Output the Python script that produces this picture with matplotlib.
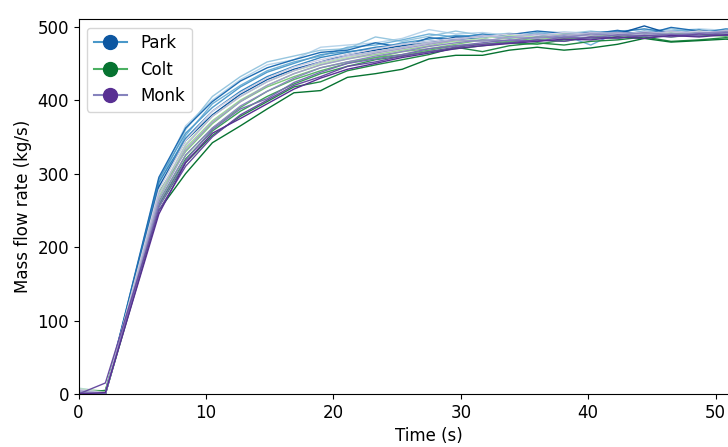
import numpy as np
import matplotlib
matplotlib.use("Agg")
import matplotlib.pyplot as plt
from matplotlib.lines import Line2D

# Sample times (s)
time = [0, 2.1, 6.3, 8.4, 10.5, 12.7, 14.8, 16.9, 19.0, 21.1, 23.3, 25.4, 27.5,
        29.6, 31.7, 33.8, 36.0, 38.1, 40.2, 42.3, 44.4, 46.5, 48.7, 50.8, 52.9]

# Mass flow rate runs (kg/s), light -> dark within each group
park_runs = [
    [8, 3, 290, 365, 400, 428, 448, 455, 472, 475, 478, 484, 496, 490, 492, 488, 490, 493, 491, 494, 496, 494, 497, 495, 494],
    [6, 2, 285, 360, 405, 432, 452, 460, 468, 470, 486, 480, 487, 494, 488, 491, 487, 490, 494, 490, 493, 497, 492, 496, 492],
    [5, 1, 280, 352, 395, 420, 440, 452, 460, 472, 475, 482, 490, 486, 489, 486, 492, 488, 475, 492, 490, 494, 496, 491, 493],
    [3, 0, 292, 355, 390, 418, 438, 450, 462, 466, 470, 478, 483, 488, 487, 484, 490, 486, 489, 488, 494, 490, 493, 494, 490],
    [2, 0, 288, 348, 385, 412, 432, 446, 458, 465, 472, 476, 480, 484, 490, 486, 485, 489, 492, 493, 497, 492, 491, 497, 495],
    [1, 0, 295, 362, 398, 426, 444, 455, 465, 468, 478, 472, 485, 482, 486, 489, 494, 491, 490, 495, 489, 499, 494, 492, 491],
    [0, 0, 282, 345, 380, 408, 428, 442, 452, 462, 468, 474, 478, 486, 484, 490, 488, 487, 492, 490, 501, 490, 495, 490, 496],
]
colt_runs = [
    [7, 4, 272, 340, 378, 405, 425, 440, 450, 458, 466, 472, 478, 480, 484, 488, 486, 490, 488, 491, 488, 493, 490, 492, 490],
    [5, 3, 268, 335, 372, 400, 420, 436, 448, 456, 462, 468, 474, 481, 480, 485, 483, 486, 490, 487, 492, 488, 494, 489, 491],
    [4, 2, 275, 330, 368, 398, 418, 432, 444, 452, 458, 466, 470, 476, 482, 478, 486, 484, 485, 490, 487, 491, 488, 493, 489],
    [3, 1, 262, 325, 362, 390, 412, 428, 440, 450, 458, 462, 468, 474, 476, 480, 482, 480, 486, 484, 490, 486, 489, 487, 490],
    [2, 0, 258, 320, 358, 385, 405, 422, 436, 446, 455, 460, 466, 470, 474, 478, 476, 482, 484, 486, 484, 490, 487, 491, 486],
    [1, 5, 255, 315, 352, 378, 398, 418, 425, 440, 448, 455, 462, 472, 466, 474, 478, 475, 480, 482, 486, 480, 482, 485, 482],
    [0, 0, 250, 300, 342, 365, 388, 410, 413, 431, 436, 442, 456, 461, 461, 468, 472, 468, 471, 476, 484, 479, 481, 483, 480],
]
monk_runs = [
    [6, 2, 278, 345, 385, 410, 430, 445, 455, 462, 470, 476, 480, 484, 486, 490, 488, 492, 490, 489, 493, 491, 494, 492, 493],
    [5, 1, 272, 338, 378, 405, 425, 440, 452, 460, 466, 472, 478, 482, 488, 485, 490, 487, 492, 491, 489, 494, 490, 495, 491],
    [4, 0, 265, 332, 370, 398, 420, 436, 448, 456, 464, 470, 476, 482, 480, 486, 484, 489, 487, 492, 490, 488, 492, 490, 494],
    [2, 0, 260, 325, 362, 392, 412, 430, 444, 452, 460, 466, 473, 478, 482, 481, 486, 485, 490, 488, 492, 489, 491, 493, 490],
    [1, 0, 255, 318, 360, 388, 402, 424, 438, 450, 456, 462, 470, 474, 478, 482, 480, 486, 484, 489, 487, 490, 488, 492, 489],
    [0, 15, 250, 310, 350, 380, 400, 420, 432, 446, 452, 460, 466, 472, 476, 478, 482, 480, 486, 484, 488, 486, 490, 488, 491],
    [0, 2, 245, 315, 355, 375, 395, 415, 430, 442, 450, 458, 464, 470, 474, 477, 480, 483, 482, 486, 484, 488, 486, 489, 488],
]

groups = ["Park", "Colt", "Monk"]
cmaps = [plt.cm.Blues, plt.cm.Greens, plt.cm.Purples]
all_runs = [park_runs, colt_runs, monk_runs]

plt.rcParams['font.size'] = 12

fig = plt.figure(figsize=(7.28, 4.47), dpi=100)
# axes runs past the right edge of the figure, like the cropped original
ax = fig.add_axes([0.108, 0.1186, 0.9625, 0.8382])

for runs, cmap in zip(all_runs, cmaps):
    shades = cmap(np.linspace(0.3, 0.85, len(runs)))
    for run, c in zip(runs, shades):
        ax.plot(time, run, color=c, linewidth=1.0)

handles = []
for name, cmap in zip(groups, cmaps):
    handles.append(Line2D([0], [0], color=cmap(0.6), linewidth=1.5, marker='o',
                          markersize=10, markerfacecolor=cmap(0.85),
                          markeredgecolor=cmap(0.85), label=name))
ax.legend(handles=handles, loc='upper left')

ax.set_xlim(0, 55)
ax.set_ylim(0, 510)
ax.set_xticks([0, 10, 20, 30, 40, 50])
ax.set_yticks([0, 100, 200, 300, 400, 500])
ax.set_xlabel('Time (s)')
ax.set_ylabel('Mass flow rate (kg/s)')

fig.savefig('out.png', dpi=100)
